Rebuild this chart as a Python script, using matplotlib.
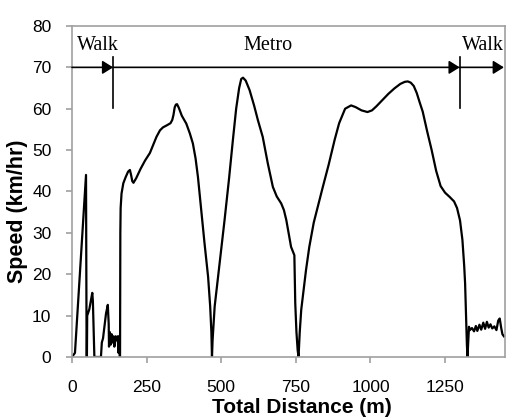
import matplotlib.pyplot as plt

# distance (m) and speed (km/hr)
dist = [0, 10, 47, 49, 50, 51, 58, 68, 70, 75, 97, 100, 104, 114, 120, 123, 124, 127,
        130, 133, 136, 139, 142, 146, 150, 153, 156, 158, 160,
        161, 162, 163, 166, 172, 180, 188, 194, 198, 202, 206, 215, 230, 245, 261,
        283, 295, 305, 318, 330, 336, 340, 344, 348, 352, 358, 368, 383, 395, 405,
        414, 422, 433, 444, 456, 463, 467, 469, 471, 478, 495, 511, 526, 539,
        550, 560, 567, 573, 582, 595, 610, 623, 639, 656, 673, 686, 701, 710, 718,
        734, 745, 748, 752, 756, 759, 763, 768, 784, 795, 810, 829,
        840, 860, 880, 895, 915, 935, 950, 970, 990, 1005, 1020, 1040, 1060, 1080,
        1100, 1115, 1125, 1135, 1145, 1155, 1165, 1175, 1190, 1205, 1220, 1235, 1250,
        1265, 1280, 1290, 1300, 1308, 1314, 1317, 1320, 1323, 1325, 1327, 1330,
        1333, 1340, 1347, 1353, 1358, 1365, 1371, 1378, 1384, 1390, 1396, 1402,
        1408, 1415, 1422, 1428, 1433, 1438, 1442, 1447]
speed = [0, 1, 44, 0, 0, 10, 11.5, 15.5, 13.5, 0, 0, 3.5, 4.5, 10.5, 12.6, 8, 2.5, 6,
         3, 5.5, 3.5, 5, 2.5, 5, 4, 5, 1, 5, 0,
         0, 30, 36, 39.5, 42, 43.5, 44.8, 45.2, 44, 42.5, 42.1, 43.2, 45.5, 47.5, 49.3,
         53.2, 54.8, 55.5, 56, 56.5, 57.3, 58.5, 60.3, 61, 61.1, 60.2, 58.3, 56.4, 54, 51.6,
         48, 43.5, 35.5, 27.5, 19.4, 12.2, 6, 0, 4, 12.2, 23, 33, 43, 52.4,
         60, 65, 67.2, 67.5, 66.8, 64.5, 60.8, 57.2, 53.2, 46.8, 41.1, 38.8, 37.1, 35.5, 33.1,
         26.6, 24.6, 13, 6, 1.7, 0, 6, 11.4, 21, 26.6, 32.5, 37.9,
         41, 46.5, 52.5, 56.5, 60, 60.8, 60.4, 59.6, 59.2, 59.6, 60.6, 62.1, 63.6, 64.9,
         66, 66.5, 66.6, 66.3, 65.5, 63.8, 61.5, 59.3, 54.5, 50, 45, 41.3, 39.7,
         38.7, 37.6, 36, 33, 28.3, 22, 17.8, 10, 3, 0, 3, 7.3,
         6.5, 7, 6.2, 7.5, 6.3, 7.8, 6.6, 8.3, 6.8, 8.5, 7.1, 7.9,
         6.9, 7.4, 6.5, 8.8, 9.3, 7, 5.5, 5]

# mode changes along the trip
mode_breaks = [138, 1299]
mode_labels = ["Walk", "Metro", "Walk"]
label_x = [87, 658, 1376]
arrow_y = 70

fig = plt.figure(figsize=(5.08, 4.19), dpi=100)
ax = fig.add_axes([0.1417, 0.148, 0.852, 0.79])

ax.plot(dist, speed, color="black", lw=1.6, solid_joinstyle="round")

# arrows marking trip segments
ends = [0] + mode_breaks + [1447]
for a, b in zip(ends[:-1], ends[1:]):
    ax.annotate("", xy=(b, arrow_y), xytext=(a, arrow_y),
                arrowprops=dict(arrowstyle="-|>,head_length=0.4,head_width=0.25",
                                color="black", lw=1.2,
                                mutation_scale=16, shrinkA=0, shrinkB=0))
for xb in mode_breaks:
    ax.plot([xb, xb], [60.1, 72.5], color="black", lw=1.2)
for lab, lx in zip(mode_labels, label_x):
    ax.text(lx, 75.3, lab, ha="center", va="center", fontsize=14.5,
            family="Liberation Serif")

ax.set_xlim(0, 1450)
ax.set_ylim(0, 80)
ax.set_xticks([0, 250, 500, 750, 1000, 1250])
ax.set_yticks(range(0, 81, 10))
for s in ax.spines.values():
    s.set_color("#a0a0a0")
    s.set_linewidth(1.2)
ax.tick_params(colors="#a0a0a0", labelcolor="black", length=4.3, width=1.2,
               labelsize=12.5)
ax.tick_params(axis="x", pad=12)
ax.tick_params(axis="y", pad=10.5)
for t in ax.get_xticklabels() + ax.get_yticklabels():
    t.set_family("Liberation Sans")
ax.set_xlabel("Total Distance (m)", fontsize=15, fontweight="bold",
              family="Liberation Sans")
ax.set_ylabel("Speed (km/hr)", fontsize=15.5, fontweight="bold",
              family="Liberation Sans")
ax.xaxis.set_label_coords(0.53, -0.124)
ax.yaxis.set_label_coords(-0.102, 0.44)

fig.savefig("out.png", dpi=100)
